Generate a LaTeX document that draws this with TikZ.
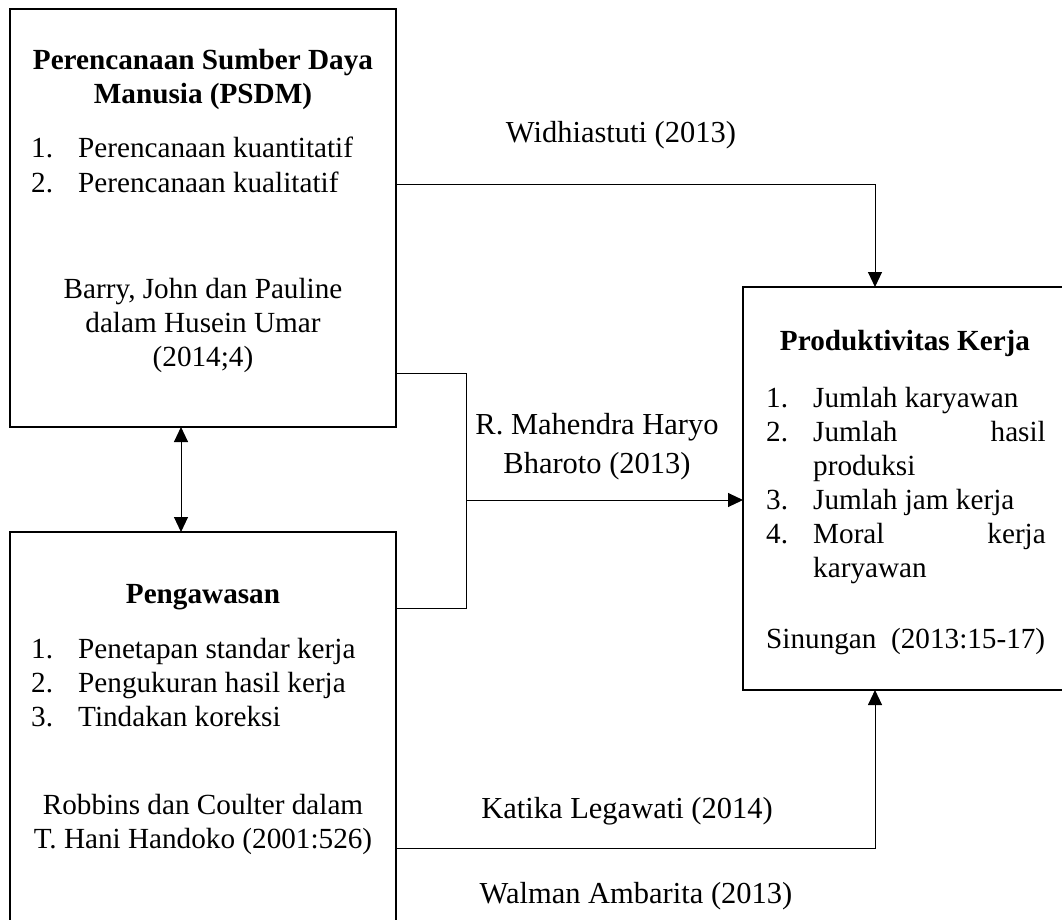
\documentclass[tikz,border=0pt]{standalone}
\usepackage{fontspec}
\setmainfont{Liberation Serif}
\usetikzlibrary{arrows.meta}
\begin{document}
\begin{tikzpicture}[x=1pt,y=-1pt,
  box/.style={draw, line width=2pt, rectangle, anchor=north west, inner sep=0pt, outer sep=0pt},
  bt/.style={inner sep=0pt, font=\fontsize{29.2}{34}\selectfont},
  lb/.style={inner sep=0pt, font=\fontsize{30.5}{38}\selectfont, anchor=base},
  conn/.style={line width=1pt},
  arr/.style={-{Triangle[length=15pt,width=14pt]}},
  arrs/.style={{Triangle[length=15pt,width=14pt]}-{Triangle[length=15pt,width=14pt]}}
]
\useasboundingbox (0,0) rectangle (1062,919);
\clip (0,0) rectangle (1062,919);
\fill[white] (0,0) rectangle (1062,919);

% boxes
\node[box, minimum width=386pt, minimum height=418pt] (A) at (10,9) {};
\node[box, minimum width=386pt, minimum height=418pt] (B) at (10,532) {};
\node[box, minimum width=324pt, minimum height=403pt] (C) at (743,287) {};

% box A text
\node[bt, anchor=base] (a1) at (203,69) {\bfseries Perencanaan Sumber Daya};
\node[bt, anchor=base] (a2) at (203,103) {\bfseries Manusia (PSDM)};
\node[bt, anchor=base west] (a3n) at (31,157) {1.};
\node[bt, anchor=base west] (a3) at (78,157) {Perencanaan kuantitatif};
\node[bt, anchor=base west] (a4n) at (31,192) {2.};
\node[bt, anchor=base west] (a4) at (78,192) {Perencanaan kualitatif};
\node[bt, anchor=base] (a5) at (203,298) {Barry, John dan Pauline};
\node[bt, anchor=base] (a6) at (203,332) {dalam Husein Umar};
\node[bt, anchor=base] (a7) at (203,366) {(2014;4)};

% box B text
\node[bt, anchor=base] (b1) at (203,603) {\bfseries Pengawasan};
\node[bt, anchor=base west] (b2n) at (31,658) {1.};
\node[bt, anchor=base west] (b2) at (78,658) {Penetapan standar kerja};
\node[bt, anchor=base west] (b3n) at (31,692) {2.};
\node[bt, anchor=base west] (b3) at (78,692) {Pengukuran hasil kerja};
\node[bt, anchor=base west] (b4n) at (31,726) {3.};
\node[bt, anchor=base west] (b4) at (78,726) {Tindakan koreksi};
\node[bt, anchor=base] (b5) at (203,814) {Robbins dan Coulter dalam};
\node[bt, anchor=base] (b6) at (203,848) {T. Hani Handoko (2001:526)};

% box C text
\node[bt, anchor=base] (c1) at (905,350) {\bfseries Produktivitas Kerja};
\node[bt, anchor=base west] (c2n) at (766,407) {1.};
\node[bt, anchor=base west] (c2) at (813,407) {Jumlah karyawan};
\node[bt, anchor=base west] (c3n) at (766,441) {2.};
\node[bt, anchor=base west] (c3) at (813,441) {Jumlah};
\node[bt, anchor=base east] (c3b) at (1046,441) {hasil};
\node[bt, anchor=base west] (c3c) at (813,475) {produksi};
\node[bt, anchor=base west] (c4n) at (766,509) {3.};
\node[bt, anchor=base west] (c4) at (813,509) {Jumlah jam kerja};
\node[bt, anchor=base west] (c5n) at (766,543) {4.};
\node[bt, anchor=base west] (c5) at (813,543) {Moral};
\node[bt, anchor=base east] (c5b) at (1046,543) {kerja};
\node[bt, anchor=base west] (c5c) at (813,577) {karyawan};
\node[bt, anchor=base west] (c6) at (766,648) {Sinungan\ \ (2013:15-17)};

% labels
\node[lb] (l1) at (621,142) {Widhiastuti (2013)};
\node[lb] (l2) at (597,434) {R. Mahendra Haryo};
\node[lb] (l3) at (597,473) {Bharoto (2013)};
\node[lb] (l4) at (627,818) {Katika Legawati (2014)};
\node[lb] (l5) at (636,903) {Walman Ambarita (2013)};

% connector helper coordinates
\coordinate (ytop) at (0,184);
\coordinate (xr) at (875,0);
\coordinate (ya) at (0,373);
\coordinate (yb) at (0,608);
\coordinate (j) at (466,500);
\coordinate (ybot) at (0,848);
\coordinate (xd) at (181,0);

% connectors
\draw[conn, arr] (A.east |- ytop) -| (C.north -| xr);
\draw[conn] (A.east |- ya) -| (j);
\draw[conn] (B.east |- yb) -| (j);
\draw[conn, arr] (j) -- (C.west |- j);
\draw[conn, arr] (B.east |- ybot) -| (C.south -| xr);
\draw[conn, arrs] (A.south -| xd) -- (B.north -| xd);
\end{tikzpicture}
\end{document}
